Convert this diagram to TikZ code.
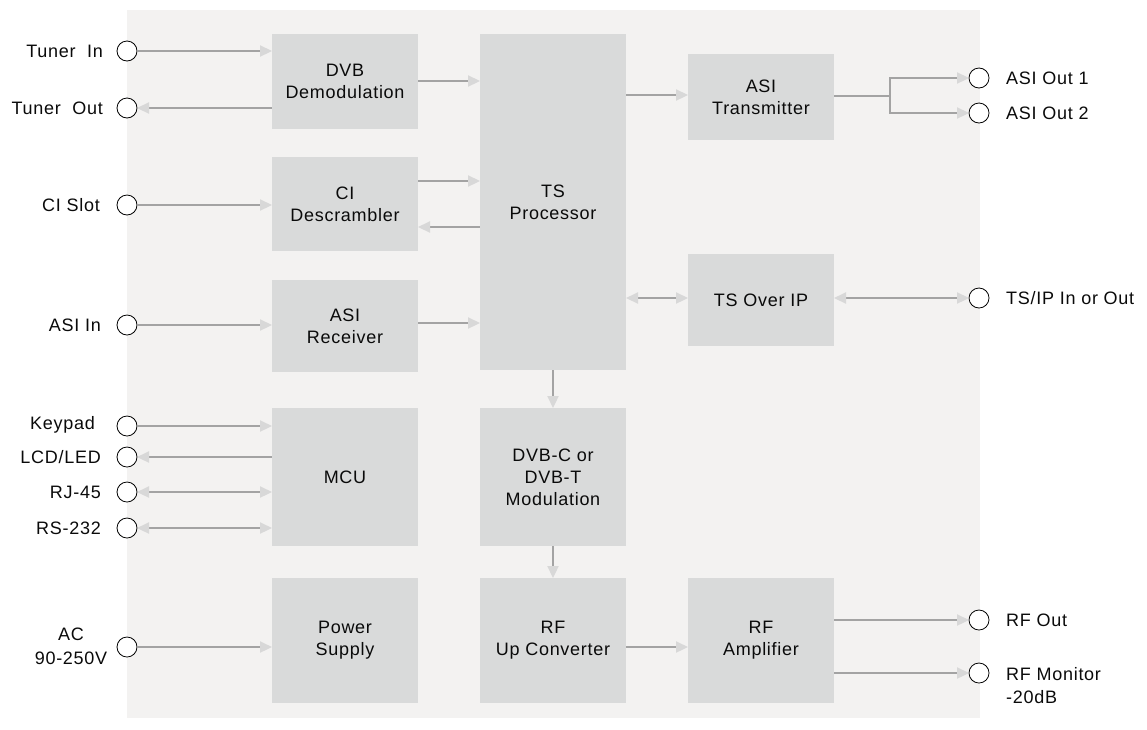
\documentclass[tikz,border=0pt]{standalone}
\usepackage{fontspec}
\setmainfont{Liberation Sans}[LetterSpace=4]
\usetikzlibrary{arrows.meta}
\definecolor{panel}{HTML}{F3F2F1}
\definecolor{boxgray}{HTML}{D9DADA}
\definecolor{linegray}{HTML}{A3A3A3}
\definecolor{tipgray}{HTML}{D8D8D8}
\definecolor{txt}{HTML}{0A0A0A}
\tikzset{
  box/.style={draw=none, fill=boxgray, inner sep=0pt, outer sep=0pt, anchor=north west,
    minimum width=146pt, align=center, text=txt, font=\fontsize{18}{22}\selectfont},
  port/.style={circle, draw=black, line width=0.8pt, fill=white, minimum size=20pt, inner sep=0pt, outer sep=0pt},
  lbl/.style={inner sep=0pt, text=txt, font=\fontsize{18}{22}\selectfont},
  tipT/.tip={Triangle[length=12pt, width=11pt, color=tipgray, fill=tipgray]},
  conn/.style={draw=linegray, line width=2.2pt},
  arr/.style={conn, -tipT},
  rarr/.style={conn, tipT-},
  barr/.style={conn, tipT-tipT},
}
\begin{document}
\begin{tikzpicture}[x=1pt, y=-1pt]
\useasboundingbox (0,0) rectangle (1147,729);
\fill[panel] (127,10) rectangle (980,718);

% boxes
\node[box, minimum height=95pt]  (dvb)   at (272,34)  {DVB\\Demodulation};
\node[box, minimum height=94pt]  (ci)    at (272,157) {CI\\Descrambler};
\node[box, minimum height=92pt]  (asirx) at (272,280) {ASI\\Receiver};
\node[box, minimum height=138pt] (mcu)   at (272,408) {MCU};
\node[box, minimum height=125pt] (pwr)   at (272,578) {Power\\Supply};
\node[box, minimum height=336pt] (ts)    at (480,34)  {TS\\Processor};
\node[box, minimum height=138pt] (mod)   at (480,408) {DVB-C or\\DVB-T\\Modulation};
\node[box, minimum height=125pt] (rfup)  at (480,578) {RF\\Up Converter};
\node[box, minimum height=86pt]  (asitx) at (688,54)  {ASI\\Transmitter};
\node[box, minimum height=92pt]  (tsip)  at (688,254) {TS Over IP};
\node[box, minimum height=125pt] (rfamp) at (688,578) {RF\\Amplifier};

% left ports
\node[port] (tin)  at (127,51)  {};
\node[port] (tout) at (127,108) {};
\node[port] (cis)  at (127,205) {};
\node[port] (asin) at (127,325) {};
\node[port] (kp)   at (127,426) {};
\node[port] (lcd)  at (127,457) {};
\node[port] (rj)   at (127,492) {};
\node[port] (rs)   at (127,528) {};
\node[port] (ac)   at (127,647) {};

% right ports
\node[port] (ao1)  at (979,78)  {};
\node[port] (ao2)  at (979,113) {};
\node[port] (tio)  at (979,298) {};
\node[port] (rfo)  at (979,620) {};
\node[port] (rfm)  at (979,673) {};

% left labels
\node[lbl, anchor=east] (ltin)  at (103,51)  {Tuner~~In};
\node[lbl, anchor=east] (ltout) at (103,108) {Tuner~~Out};
\node[lbl, anchor=east] (lcis)  at (100,205) {CI Slot};
\node[lbl, anchor=east] (lasin) at (101,325) {ASI In};
\node[lbl, anchor=east] (lkp)   at (95,425)  {Keypad};
\node[lbl, anchor=east] (llcd)  at (101,457) {LCD/LED};
\node[lbl, anchor=east] (lrj)   at (101,492) {RJ-45};
\node[lbl, anchor=east] (lrs)   at (101,528) {RS-232};
\node[lbl, align=center, font=\fontsize{18}{24}\selectfont] (lac) at (71,646) {AC\\90-250V};

% right labels
\node[lbl, anchor=west] (lao1) at (1006,78)  {ASI Out~1};
\node[lbl, anchor=west] (lao2) at (1006,113) {ASI Out~2};
\node[lbl, anchor=west] (ltio) at (1006,298) {TS/IP In or Out};
\node[lbl, anchor=west] (lrfo) at (1006,620) {RF Out};
\node[lbl, anchor=west, align=left, font=\fontsize{18}{23}\selectfont] (lrfm) at (1006,686) {RF Monitor\\-20dB};

% connectors, left side
\draw[arr]  (tin)  -- (dvb.west |- tin);
\draw[rarr] (tout) -- (dvb.west |- tout);
\draw[arr]  (cis)  -- (ci.west |- cis);
\draw[arr]  (asin) -- (asirx.west |- asin);
\draw[arr]  (kp)   -- (mcu.west |- kp);
\draw[rarr] (lcd)  -- (mcu.west |- lcd);
\draw[barr] (rj)   -- (mcu.west |- rj);
\draw[barr] (rs)   -- (mcu.west |- rs);
\draw[arr]  (ac)   -- (pwr.west |- ac);

% inner connectors
\draw[arr]  (dvb.east |- 0,81)   -- (ts.west |- 0,81);
\draw[arr]  (ci.east |- 0,181)   -- (ts.west |- 0,181);
\draw[rarr] (ci.east |- 0,227)   -- (ts.west |- 0,227);
\draw[arr]  (asirx.east |- 0,323) -- (ts.west |- 0,323);
\draw[arr]  (ts.east |- 0,95)    -- (asitx.west |- 0,95);
\draw[barr] (ts.east |- tio)     -- (tsip.west |- tio);
\draw[arr]  (ts.south)   -- (mod.north);
\draw[arr]  (mod.south)  -- (rfup.north);
\draw[arr]  (rfup.east |- 0,647) -- (rfamp.west |- 0,647);

% right side
\coordinate (sp) at (890,96);
\draw[conn] (asitx.east |- sp) -- (sp);
\draw[arr]  (sp) |- (ao1);
\draw[arr]  (sp) |- (ao2);
\draw[barr] (tsip.east |- tio) -- (tio);
\draw[arr]  (rfamp.east |- rfo) -- (rfo);
\draw[arr]  (rfamp.east |- rfm) -- (rfm);
\end{tikzpicture}
\end{document}
